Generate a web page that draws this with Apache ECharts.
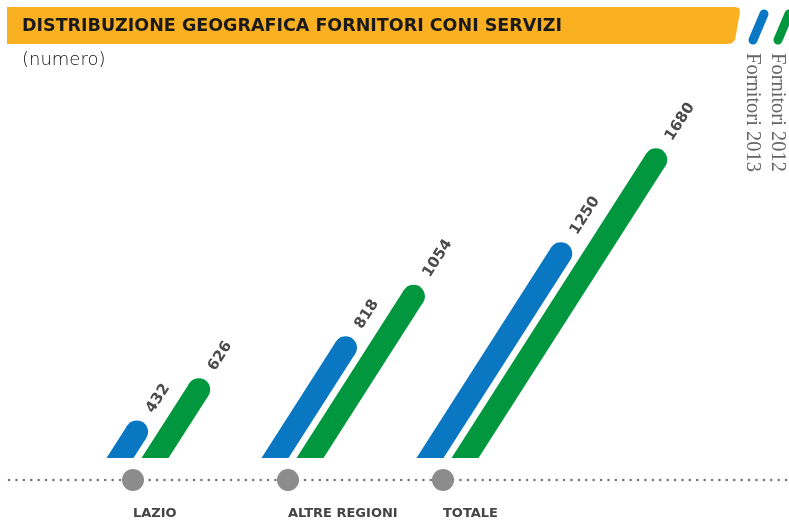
<!DOCTYPE html>
<html>
<head>
<meta charset="utf-8">
<script src="https://cdn.jsdelivr.net/npm/echarts@6/dist/echarts.min.js"></script>
<style>
  html, body { margin: 0; padding: 0; background: #fff; }
  #main { width: 789px; height: 522px; }
</style>
</head>
<body>
<div id="main"></div>
<script>
var categories = ['LAZIO', 'ALTRE REGIONI', 'TOTALE'];
var fornitori2013 = [432, 818, 1250];   // blu
var fornitori2012 = [626, 1054, 1680];  // verde

var yMin = 260, yMax = 1700;
var slope = 0.64;      // dx / dy of the slanted bars
var barW = 27;         // horizontal width at the baseline
var blue = '#0a77c2', green = '#00973f';

var chart = echarts.init(document.getElementById('main'));

function barRenderer(offset, color) {
    return function (params, api) {
        var idx = api.value(0), val = api.value(1);
        var base = api.coord([idx, yMin]);
        var top = api.coord([idx, val]);
        var L = Math.sqrt(1 + slope * slope);
        var r = barW / (2 * L);
        var bx = base[0] + offset, by = base[1];
        var cy = top[1] + r;
        var cx = bx + (by - cy) * slope;
        var nx = 1 / L, ny = slope / L;
        var dx = slope / L, dy = -1 / L;
        return {
            type: 'group',
            children: [
                {
                    type: 'polygon',
                    shape: { points: [
                        [bx - barW / 2, by], [bx + barW / 2, by],
                        [cx + nx * r, cy + ny * r], [cx - nx * r, cy - ny * r]
                    ] },
                    style: { fill: color }
                },
                { type: 'circle', shape: { cx: cx, cy: cy, r: r }, style: { fill: color } },
                {
                    type: 'text',
                    x: cx + dx * 24, y: cy + dy * 24,
                    rotation: Math.atan(1 / slope),
                    style: {
                        text: String(val), fill: '#4a4a4a',
                        font: 'bold 15px "DejaVu Sans"',
                        align: 'left', verticalAlign: 'middle'
                    }
                }
            ]
        };
    };
}

var option = {
    animation: false,
    grid: { left: 55.5, right: 268.5, top: 144, bottom: 64 },
    xAxis: {
        type: 'category',
        data: categories,
        axisLine: { show: false },
        axisTick: { show: false },
        axisLabel: {
            margin: 49, align: 'left', color: '#444',
            fontFamily: 'DejaVu Sans', fontWeight: 'bold', fontSize: 13
        }
    },
    yAxis: { type: 'value', min: yMin, max: yMax, show: false },
    graphic: [
        {
            type: 'polygon', z: 0,
            shape: { points: [[7, 7], [735, 7], [739, 8], [740, 12], [735, 40], [732, 43], [728, 44], [7, 44]] },
            style: { fill: '#f9b121' }
        },
        {
            type: 'text', x: 22, y: 26,
            style: {
                text: 'DISTRIBUZIONE GEOGRAFICA FORNITORI CONI SERVIZI',
                fill: '#1a1a1a', font: 'bold 17.5px "DejaVu Sans"', verticalAlign: 'middle'
            }
        },
        {
            type: 'text', x: 22, y: 60,
            style: { text: '(numero)', fill: '#111', font: '300 18px "DejaVu Sans"', verticalAlign: 'middle' }
        },
        {
            type: 'line', shape: { x1: 753, y1: 40, x2: 764, y2: 14 },
            style: { stroke: blue, lineWidth: 9, lineCap: 'round' }
        },
        {
            type: 'line', shape: { x1: 778, y1: 40, x2: 789, y2: 14 },
            style: { stroke: green, lineWidth: 9, lineCap: 'round' }
        },
        {
            type: 'text', x: 752, y: 53, rotation: -Math.PI / 2,
            style: { text: 'Fornitori 2013', fill: '#666', font: '20.5px "Liberation Serif"', align: 'left', verticalAlign: 'middle' }
        },
        {
            type: 'text', x: 777, y: 53, rotation: -Math.PI / 2,
            style: { text: 'Fornitori 2012', fill: '#666', font: '20.5px "Liberation Serif"', align: 'left', verticalAlign: 'middle' }
        },
        {
            type: 'line', z: 0, shape: { x1: 9, y1: 480, x2: 789, y2: 480 },
            style: { stroke: '#777', lineWidth: 2.5, lineDash: [0.1, 7.3], lineCap: 'round' }
        }
    ],
    series: [
        {
            name: 'Fornitori 2013', type: 'custom', clip: false,
            renderItem: barRenderer(-13, blue),
            data: fornitori2013.map(function (v, i) { return [i, v]; })
        },
        {
            name: 'Fornitori 2012', type: 'custom', clip: false,
            renderItem: barRenderer(22, green),
            data: fornitori2012.map(function (v, i) { return [i, v]; })
        },
        {
            name: 'punti', type: 'custom', clip: false, z: 5,
            renderItem: function (params, api) {
                var p = api.coord([api.value(0), yMin]);
                return { type: 'circle', shape: { cx: p[0], cy: p[1] + 22, r: 11 }, style: { fill: '#8c8c8c' } };
            },
            data: categories.map(function (c, i) { return [i, yMin]; })
        }
    ]
};
chart.setOption(option);
</script>
</body>
</html>
